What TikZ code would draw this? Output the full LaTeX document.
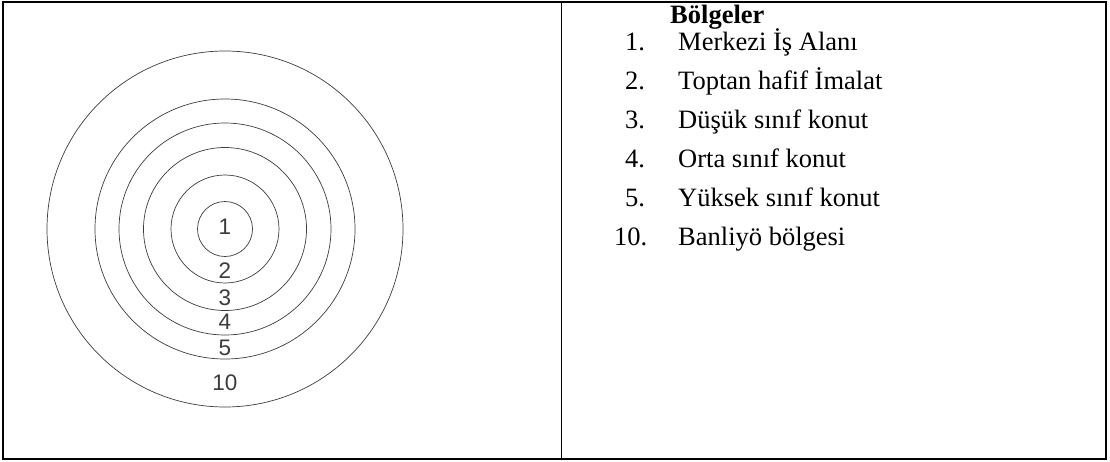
\documentclass[tikz,border=0pt]{standalone}
\usepackage{fontspec}
\setmainfont{Liberation Serif}
\newfontfamily\ringfont{Liberation Sans}
\usepackage{xcolor}
\definecolor{ringgray}{HTML}{3C3C3C}
\usetikzlibrary{positioning}

\tikzset{
  ringlabel/.style={anchor=base, inner sep=0pt, text=ringgray, font=\ringfont\fontsize{22.5}{22.5}\selectfont},
  listnum/.style={anchor=base west, inner sep=0pt, font=\fontsize{26.5}{26.5}\selectfont},
  listtext/.style={anchor=base west, inner sep=0pt, font=\fontsize{26.5}{26.5}\selectfont}
}

\begin{document}
\begin{tikzpicture}[x=1pt,y=-1pt]
  \useasboundingbox (0,0) rectangle (1110,461);
  % table frame
  \draw[line width=2pt] (3,1.5) rectangle (1106,458.5);
  \draw[line width=1.2pt] (561.5,1.5) -- (561.5,458.5);
  % rings
  \foreach \r in {27.5, 54, 81.5, 106, 130, 178}
    \draw[ringgray, line width=0.7pt] (225,229) circle (\r pt);
  \foreach \n/\y in {1/234, 2/278, 3/305, 4/329, 5/355, 10/390}
    \node[ringlabel] (ring-\n) at (225,\y) {\n};
  % legend
  \node[listtext, font=\fontsize{26.5}{26.5}\selectfont\bfseries] (title) at (670,23) {Bölgeler};
  \foreach \n/\nx/\y/\zone in {1/625/50/Merkezi İş Alanı, 2/625/89/Toptan hafif İmalat,
      3/625/128/Düşük sınıf konut, 4/625/167/Orta sınıf konut,
      5/625/206/Yüksek sınıf konut, 10/614/245/Banliyö bölgesi} {
    \node[listnum] (num-\n) at (\nx,\y) {\n.};
    \node[listtext] (zone-\n) at (678,\y) {\zone};
  }
\end{tikzpicture}
\end{document}
